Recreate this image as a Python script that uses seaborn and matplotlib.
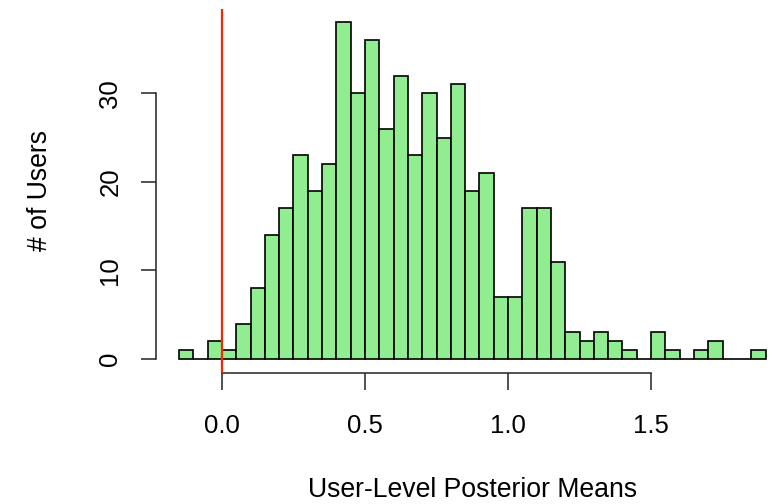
import matplotlib
matplotlib.use("Agg")
import matplotlib.pyplot as plt
import seaborn as sns
import numpy as np

# Histogram bin edges (width 0.05) from -0.15 to 1.90
bin_edges = [round(-0.15 + 0.05 * i, 2) for i in range(42)]
counts = [1, 0, 2, 1, 4, 8, 14, 17, 23, 19, 22, 38, 30, 36, 26, 32, 23, 30, 25, 31,
          19, 21, 7, 7, 17, 17, 11, 3, 2, 3, 2, 1, 0, 3, 1, 0, 1, 2, 0, 0, 1]
bin_centers = [(bin_edges[i] + bin_edges[i + 1]) / 2 for i in range(len(counts))]
x_ticks = [0.0, 0.5, 1.0, 1.5]
x_tick_labels = ["0.0", "0.5", "1.0", "1.5"]
y_ticks = [0, 10, 20, 30]
y_tick_labels = ["0", "10", "20", "30"]

sns.set_style("white")
plt.rcParams['font.family'] = ['Liberation Sans', 'DejaVu Sans']
plt.rcParams['text.color'] = 'black'
plt.rcParams['axes.labelcolor'] = 'black'

W, H = 772, 504
fig = plt.figure(figsize=(W / 100, H / 100), dpi=100)
left_px, right_px, top_px, bottom_px = 155.6, 789.0, 9.0, 372.5
ax = fig.add_axes([left_px / W, 1 - bottom_px / H,
                   (right_px - left_px) / W, (bottom_px - top_px) / H])

sns.histplot(x=bin_centers, weights=counts, bins=bin_edges, ax=ax,
             color="#90EE90", edgecolor="black", linewidth=1.2, alpha=1.0)

ax.axvline(0, color="#FF2200", linewidth=1.6, zorder=5)

ax.set_xlim(-0.232, 1.982)
ax.set_ylim(-1.52, 39.52)

for s in ["top", "right"]:
    ax.spines[s].set_visible(False)
ax.spines["left"].set_bounds(0, 30)
ax.spines["bottom"].set_bounds(0, 1.5)
for s in ["left", "bottom"]:
    ax.spines[s].set_linewidth(1.1)
    ax.spines[s].set_color("#222222")

ax.set_xticks(x_ticks)
ax.set_xticklabels(x_tick_labels)
ax.set_yticks(y_ticks)
ax.set_yticklabels(y_tick_labels, rotation=90, va="center")

ax.tick_params(axis="x", direction="out", length=12, width=1.1, pad=18,
               labelsize=18.5, colors="#222222", labelcolor="black", bottom=True)
ax.tick_params(axis="y", direction="out", length=11, width=1.1, pad=13,
               labelsize=18.5, colors="#222222", labelcolor="black", left=True)

ax.set_xlabel("User-Level Posterior Means", fontsize=19.2, color="black")
ax.set_ylabel("# of Users", fontsize=19.2, color="black")
ax.xaxis.label.set_va("center")
ax.yaxis.label.set_va("center")
ax.xaxis.set_label_coords(0.5, -(490 - bottom_px) / (bottom_px - top_px))
ax.yaxis.set_label_coords(-(left_px - 40) / (right_px - left_px), 0.5)

fig.savefig("out.png", dpi=100)
